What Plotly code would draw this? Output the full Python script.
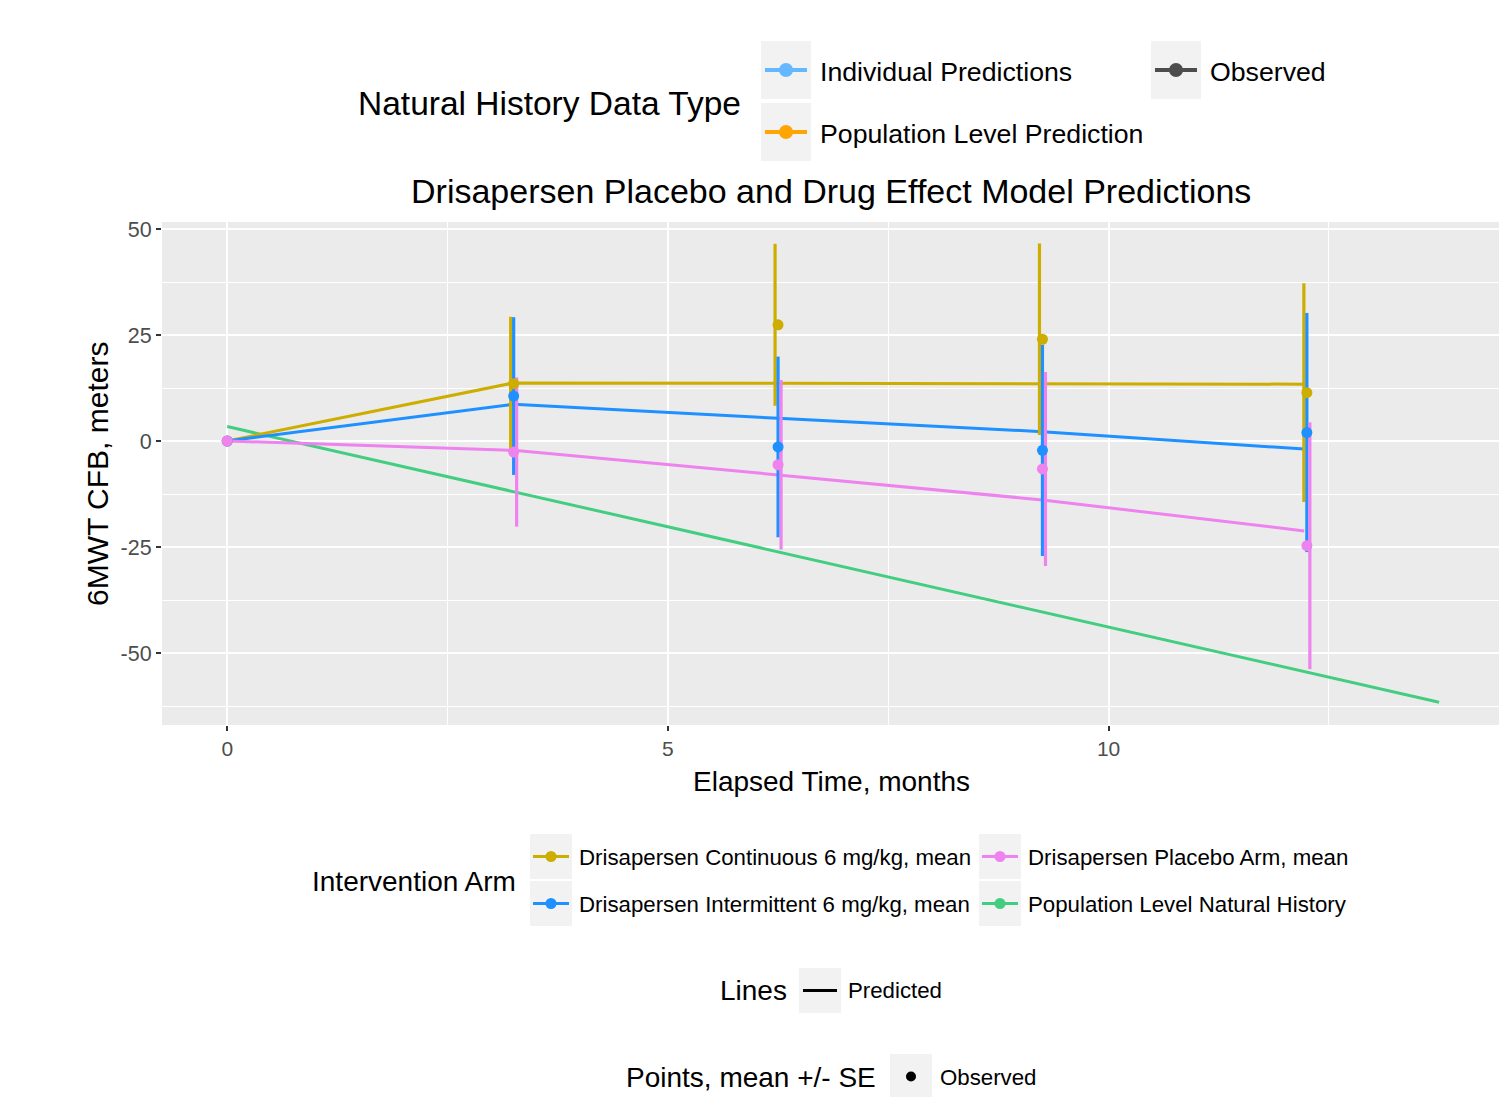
import plotly.graph_objects as go

# ---------------- data ----------------
obs_time = [0, 3.25, 6.25, 9.25, 12.25]
pred_time = [0, 3.25, 6.25, 9.25, 12.22]
nh_time = [0, 13.75]

cont_obs_mean = [0, 13.5, 27.4, 24.0, 11.4]
cont_obs_se = [0, 15.8, 19.1, 22.6, 25.8]
int_obs_mean = [0, 10.6, -1.4, -2.2, 2.0]
int_obs_se = [0, 18.6, 21.3, 24.9, 28.2]
pbo_obs_mean = [0, -2.6, -5.6, -6.6, -24.7]
pbo_obs_se = [0, 17.6, 20.0, 22.9, 29.1]

cont_pred = [0, 13.7, 13.6, 13.5, 13.4]
int_pred = [0, 8.65, 5.35, 2.2, -1.9]
pbo_pred = [0, -2.2, -8.0, -13.9, -21.2]
nh_pred = [3.4, -61.6]

arm_names = [
    "Drisapersen Continuous 6 mg/kg, mean",
    "Drisapersen Intermittent 6 mg/kg, mean",
    "Drisapersen Placebo Arm, mean",
    "Population Level Natural History",
]
nh_type_names = ["Individual Predictions", "Population Level Prediction", "Observed"]

x_ticks = [0, 5, 10]
y_ticks = [50, 25, 0, -25, -50]

# ---------------- style ----------------
C_CONT = "#CDAD00"
C_INT = "#1E90FF"
C_PBO = "#EE82EE"
C_NH = "#43CD80"
C_IND = "#63B8FF"
C_POP = "#FFA500"
C_OBS = "#4D4D4D"
KEY_BG = "#F2F2F2"
FONT = "Liberation Sans, Arial, Helvetica, sans-serif"

W, H = 1499, 1097
L, R, T, B = 162, 0, 222, 372
PW, PH = W - L - R, H - T - B
DODGE = 0.034
PADX = 2  # annotation inner padding compensation


def px(xp):
    return (xp - L) / PW


def py(yp):
    return (H - B - yp) / PH


fig = go.Figure()

# predicted lines
for t, v, c in [
    (nh_time, nh_pred, C_NH),
    (pred_time, cont_pred, C_CONT),
    (pred_time, int_pred, C_INT),
    (pred_time, pbo_pred, C_PBO),
]:
    fig.add_trace(go.Scatter(x=t, y=v, mode="lines", line=dict(color=c, width=3), hoverinfo="skip"))

# error bars (dodged)
for mean, se, c, d in [
    (cont_obs_mean, cont_obs_se, C_CONT, -DODGE),
    (int_obs_mean, int_obs_se, C_INT, 0.0),
    (pbo_obs_mean, pbo_obs_se, C_PBO, DODGE),
]:
    fig.add_trace(go.Scatter(
        x=[t + d for t in obs_time], y=mean, mode="markers",
        marker=dict(size=1, opacity=0),
        error_y=dict(type="data", array=se, visible=True, color=c, thickness=3.2, width=0),
        hoverinfo="skip"))

# observed points
for mean, c in [(cont_obs_mean, C_CONT), (int_obs_mean, C_INT), (pbo_obs_mean, C_PBO)]:
    fig.add_trace(go.Scatter(x=obs_time, y=mean, mode="markers",
                             marker=dict(color=c, size=11, line=dict(width=0))))

fig.update_layout(
    width=W, height=H,
    margin=dict(l=L, r=R, t=T, b=B, pad=0),
    paper_bgcolor="white", plot_bgcolor="#EBEBEB",
    showlegend=False,
    font=dict(family=FONT),
)

fig.update_xaxes(
    range=[-0.74, 14.43], tickvals=x_ticks, ticktext=[str(v) for v in x_ticks],
    showgrid=True, gridcolor="white", gridwidth=2.4, zeroline=False, showline=False,
    ticks="outside", ticklen=5, tickwidth=2, tickcolor="#333333",
    tickfont=dict(size=21, color="#4D4D4D", family=FONT),
    minor=dict(tickvals=[2.5, 7.5, 12.5], showgrid=True, gridcolor="white", gridwidth=1.2, ticks=""),
)
fig.update_yaxes(
    range=[-66.98, 51.65], tickvals=y_ticks, ticktext=[str(v) for v in y_ticks],
    showgrid=True, gridcolor="white", gridwidth=2.4, zeroline=False, showline=False,
    ticks="outside", ticklen=5, tickwidth=2, tickcolor="#333333",
    tickfont=dict(size=21.5, color="#4D4D4D", family=FONT),
    minor=dict(tickvals=[37.5, 12.5, -12.5, -37.5, -62.5], showgrid=True, gridcolor="white", gridwidth=1.2, ticks=""),
)

ann = []
shapes = []


def text(x, y, s, size, anchor="left", color="black", angle=0):
    if anchor == "left":
        x -= PADX
    ann.append(dict(x=px(x), y=py(y), xref="paper", yref="paper", text=s, showarrow=False,
                    xanchor=anchor, yanchor="middle", textangle=angle,
                    font=dict(size=size, color=color, family=FONT)))


def rect(x0, y0, x1, y1, fill):
    shapes.append(dict(type="rect", xref="paper", yref="paper", x0=px(x0), x1=px(x1),
                       y0=py(y1), y1=py(y0), fillcolor=fill, line=dict(width=0), layer="below"))


def hline(x0, x1, y, color, w):
    shapes.append(dict(type="line", xref="paper", yref="paper", x0=px(x0), x1=px(x1),
                       y0=py(y), y1=py(y), line=dict(color=color, width=w)))


def dot(x, y, r, color):
    shapes.append(dict(type="circle", xref="paper", yref="paper", xsizemode="pixel", ysizemode="pixel",
                       xanchor=px(x), yanchor=py(y), x0=-r, x1=r, y0=-r, y1=r,
                       fillcolor=color, line=dict(width=0)))


# title and axis titles
text(830.5, 191, "Drisapersen Placebo and Drug Effect Model Predictions", 34, anchor="center")
text(831, 781, "Elapsed Time, months", 28, anchor="center")
text(97, 474, "6MWT CFB, meters", 30, anchor="center", angle=-90)

# top legend: Natural History Data Type
text(358, 104, "Natural History Data Type", 33.5)
for (kx, ky, name, col) in [
    (761, 41, nh_type_names[0], C_IND),
    (761, 103, nh_type_names[1], C_POP),
    (1151, 41, nh_type_names[2], C_OBS),
]:
    rect(kx, ky, kx + 50, ky + 58, KEY_BG)
    hline(kx + 4, kx + 46, ky + 29, col, 4)
    dot(kx + 25, ky + 29, 7, col)
    text(kx + 59, ky + 31, name, 26.7)

# bottom legend: Intervention Arm
text(312, 881, "Intervention Arm", 28)
for (kx, ky, name, col) in [
    (530, 834, arm_names[0], C_CONT),
    (530, 881, arm_names[1], C_INT),
    (979, 834, arm_names[2], C_PBO),
    (979, 881, arm_names[3], C_NH),
]:
    rect(kx, ky, kx + 42, ky + 45, KEY_BG)
    hline(kx + 3, kx + 39, ky + 22.5, col, 3)
    dot(kx + 21, ky + 22.5, 5.5, col)
    text(kx + 49, ky + 23, name, 22.25)

# Lines legend
text(720, 991, "Lines", 28)
rect(799, 968, 841, 1013, KEY_BG)
hline(803, 837, 990.5, "black", 3)
text(848, 991, "Predicted", 22.25)

# Points legend
text(626, 1077, "Points, mean +/- SE", 28)
rect(890, 1054, 932, 1099, KEY_BG)
dot(911, 1076.5, 5, "black")
text(940, 1077, "Observed", 22.25)

fig.update_layout(annotations=ann, shapes=shapes)
fig.write_html("out.html")
